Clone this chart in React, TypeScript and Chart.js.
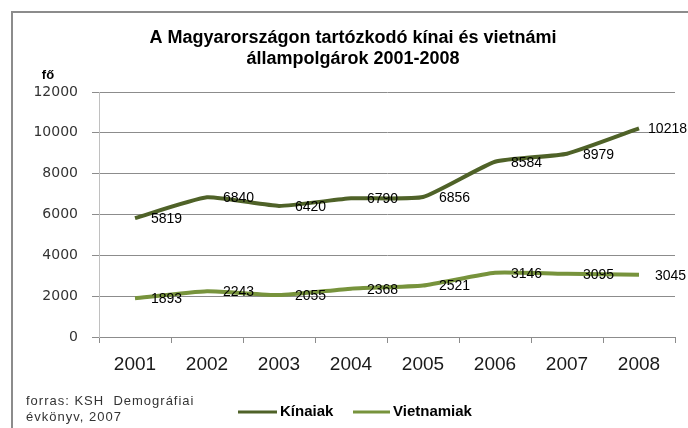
import React, { useEffect, useRef } from "react";
import { Chart, registerables } from "chart.js";

Chart.register(...registerables);

const categories = ["2001", "2002", "2003", "2004", "2005", "2006", "2007", "2008"];
const kinaiak = [5819, 6840, 6420, 6790, 6856, 8584, 8979, 10218];
const vietnamiak = [1893, 2243, 2055, 2368, 2521, 3146, 3095, 3045];
const seriesNames = ["Kínaiak", "Vietnamiak"];
const seriesColors = ["#4F6228", "#77933C"];
const titleLines = ["A Magyarországon tartózkodó kínai és vietnámi", "állampolgárok 2001-2008"];
const yUnit = "fő";
const footLines = ["forras: KSH  Demográfiai", "évkönyv, 2007"];
const yMin = 0;
const yMax = 12000;
const yStep = 2000;

const W = 688;
const H = 428;

const decorPlugin = {
  id: "decor",
  beforeDraw(chart: any) {
    const ctx = chart.ctx;
    ctx.save();
    ctx.fillStyle = "#ffffff";
    ctx.fillRect(0, 0, W, H);
    ctx.strokeStyle = "#8c8c8c";
    ctx.lineWidth = 2;
    ctx.beginPath();
    ctx.moveTo(12, H + 5);
    ctx.lineTo(12, 12);
    ctx.lineTo(W + 5, 12);
    ctx.stroke();
    ctx.restore();
  },
  afterDatasetsDraw(chart: any) {
    const ctx = chart.ctx;
    ctx.save();
    ctx.font = "14px 'Liberation Sans', Arial, sans-serif";
    ctx.fillStyle = "#000000";
    ctx.textBaseline = "middle";
    ctx.textAlign = "left";
    chart.data.datasets.forEach((ds: any, di: number) => {
      const meta = chart.getDatasetMeta(di);
      meta.data.forEach((pt: any, i: number) => {
        const txt = String(ds.data[i]);
        const w = ctx.measureText(txt).width;
        let x = pt.x + 16;
        if (x + w > W - 1) x = W - 1 - w;
        ctx.fillText(txt, x, pt.y + 1);
      });
    });
    ctx.restore();
  },
  afterDraw(chart: any) {
    const ctx = chart.ctx;
    ctx.save();
    // title
    ctx.fillStyle = "#000000";
    ctx.textAlign = "center";
    ctx.textBaseline = "middle";
    ctx.font = "bold 18px 'Liberation Sans', Arial, sans-serif";
    ctx.fillText(titleLines[0], 353, 38);
    ctx.fillText(titleLines[1], 353, 59);
    // unit
    ctx.font = "bold 13px 'Liberation Sans', Arial, sans-serif";
    ctx.fillText(yUnit, 48, 75);
    // footnote
    ctx.textAlign = "left";
    ctx.fillStyle = "#333333";
    ctx.font = "13px 'Liberation Sans', Arial, sans-serif";
    try {
      (ctx as any).letterSpacing = "1px";
    } catch (e) {}
    ctx.fillText(footLines[0], 26, 401);
    ctx.fillText(footLines[1], 26, 417);
    try {
      (ctx as any).letterSpacing = "0px";
    } catch (e) {}
    // legend
    const legendItems = [
      { x0: 238, x1: 277, tx: 280 },
      { x0: 353, x1: 390, tx: 393 },
    ];
    ctx.font = "bold 15px 'Liberation Sans', Arial, sans-serif";
    legendItems.forEach((li, i) => {
      ctx.strokeStyle = seriesColors[i];
      ctx.lineWidth = 3;
      ctx.beginPath();
      ctx.moveTo(li.x0, 412);
      ctx.lineTo(li.x1, 412);
      ctx.stroke();
      ctx.fillStyle = "#000000";
      ctx.fillText(seriesNames[i], li.tx, 412);
    });
    ctx.restore();
  },
};

export default function App() {
  const ref = useRef<HTMLCanvasElement | null>(null);
  useEffect(() => {
    if (!ref.current) return;
    const chart = new Chart(ref.current, {
      type: "line",
      data: {
        labels: categories,
        datasets: [
          {
            label: seriesNames[0],
            data: kinaiak,
            borderColor: seriesColors[0],
            backgroundColor: seriesColors[0],
            borderWidth: 4,
            pointRadius: 0,
            tension: 0.15,
            borderCapStyle: "butt",
          },
          {
            label: seriesNames[1],
            data: vietnamiak,
            borderColor: seriesColors[1],
            backgroundColor: seriesColors[1],
            borderWidth: 4,
            pointRadius: 0,
            tension: 0.15,
            borderCapStyle: "butt",
          },
        ],
      },
      options: {
        responsive: false,
        animation: false,
        devicePixelRatio: 1,
        layout: { padding: { top: 92, right: 13, left: 0, bottom: 0 } },
        plugins: {
          legend: { display: false },
          title: { display: false },
          tooltip: { enabled: false },
        },
        scales: {
          x: {
            type: "category",
            offset: true,
            grid: {
              offset: true,
              drawOnChartArea: false,
              drawTicks: true,
              tickLength: 6,
              color: "#8c8c8c",
            },
            border: { color: "#8c8c8c" },
            ticks: {
              color: "#1a1a1a",
              font: { family: "'Liberation Sans', Arial, sans-serif", size: 19 },
              padding: 10,
              maxRotation: 0,
            },
            afterFit: (s: any) => {
              s.height = 91;
            },
          },
          y: {
            min: yMin,
            max: yMax,
            ticks: {
              stepSize: yStep,
              color: "#333333",
              font: { family: "'DejaVu Sans', sans-serif", size: 14 },
              padding: 14,
              callback: (v: any) => String(v),
            },
            grid: { color: "#8c8c8c", tickLength: 7 },
            border: { color: "#c0c0c0" },
            afterFit: (s: any) => {
              s.width = 99;
            },
          },
        },
      },
      plugins: [decorPlugin],
    });
    return () => chart.destroy();
  }, []);
  return (
    <div style={{ position: "absolute", left: 0, top: 0, width: W, height: H }}>
      <canvas ref={ref} width={W} height={H} style={{ display: "block" }} />
    </div>
  );
}
